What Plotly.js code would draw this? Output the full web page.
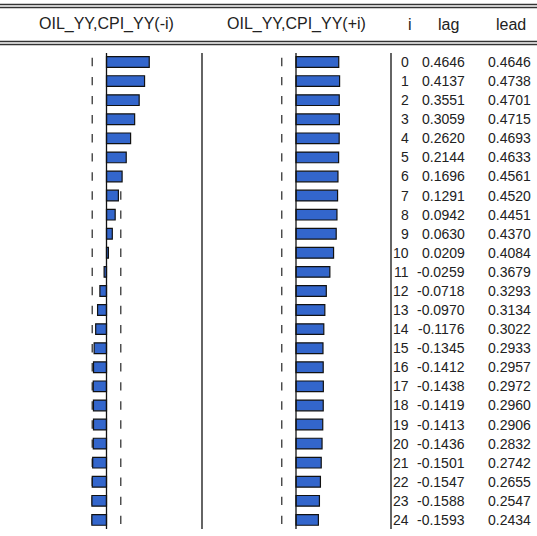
<!DOCTYPE html>
<html>
<head>
<meta charset="utf-8">
<script src="https://cdn.plot.ly/plotly-3.0.1.min.js"></script>
<style>html,body{margin:0;padding:0;background:#fff;}#chart{width:537px;height:536px;}</style>
</head>
<body>
<div id="chart"></div>
<script>
// ---- data ----
var lags = [0,1,2,3,4,5,6,7,8,9,10,11,12,13,14,15,16,17,18,19,20,21,22,23,24];
var lagValues = [0.4646,0.4137,0.3551,0.3059,0.2620,0.2144,0.1696,0.1291,0.0942,0.0630,0.0209,-0.0259,-0.0718,-0.0970,-0.1176,-0.1345,-0.1412,-0.1438,-0.1419,-0.1413,-0.1436,-0.1501,-0.1547,-0.1588,-0.1593];
var leadValues = [0.4646,0.4738,0.4701,0.4715,0.4693,0.4633,0.4561,0.4520,0.4451,0.4370,0.4084,0.3679,0.3293,0.3134,0.3022,0.2933,0.2957,0.2972,0.2960,0.2906,0.2832,0.2742,0.2655,0.2547,0.2434];
var confBand = 0.155;
var headerLeft = "OIL_YY,CPI_YY(-i)";
var headerRight = "OIL_YY,CPI_YY(+i)";
var colHeaders = ["i", "lag", "lead"];

// ---- layout helpers (pixel geometry) ----
var W = 537, H = 536;
var rowTop = 62, rowStep = 19.08;
var scale = 92;           // px per unit correlation
var zeroL = 106.5, zeroR = 296;
function px(x){ return x / W; }
function py(y){ return 1 - y / H; }

var yRange = [(H - rowTop) / rowStep, -rowTop / rowStep];
var xRangeL = [-zeroL / scale, (W - zeroL) / scale];
var xRangeR = [-zeroR / scale, (W - zeroR) / scale];

var barColor = '#3366CC';
var dashColor = '#444';
var txtColor = '#222';

function dashTrace(xaxis) {
  var xs = [], ys = [];
  lags.forEach(function(l){ xs.push(-confBand, confBand); ys.push(l, l); });
  return {type:'scatter', mode:'markers', x:xs, y:ys, xaxis:xaxis, yaxis:'y',
    marker:{symbol:'line-ns', size:6, line:{color:dashColor, width:1.4}},
    hoverinfo:'skip', showlegend:false};
}
function barTrace(vals, xaxis) {
  return {type:'bar', orientation:'h', x:vals, y:lags, xaxis:xaxis, yaxis:'y',
    width:0.56, marker:{color:barColor, line:{color:'#111', width:1.2}},
    hoverinfo:'skip', showlegend:false};
}

var traces = [
  dashTrace('x'),
  barTrace(lagValues, 'x2'),
  dashTrace('x3'),
  barTrace(leadValues, 'x4')
];

var axisBase = {domain:[0,1], showgrid:false, zeroline:false, showticklabels:false, ticks:'', showline:false, fixedrange:true};
var layout = {
  width:W, height:H,
  margin:{l:0, r:0, t:0, b:0, pad:0},
  paper_bgcolor:'#fff', plot_bgcolor:'rgba(0,0,0,0)',
  font:{family:'Liberation Sans, Arial, sans-serif', size:14, color:txtColor},
  bargap:0,
  xaxis: Object.assign({}, axisBase, {range:xRangeL}),
  xaxis2: Object.assign({}, axisBase, {range:xRangeL, overlaying:'x'}),
  xaxis3: Object.assign({}, axisBase, {range:xRangeR, overlaying:'x'}),
  xaxis4: Object.assign({}, axisBase, {range:xRangeR, overlaying:'x'}),
  yaxis: Object.assign({}, axisBase, {range:yRange}),
  shapes:[], annotations:[]
};

function hline(y, w, c){
  layout.shapes.push({type:'line', xref:'paper', yref:'paper', x0:0, x1:1, y0:py(y), y1:py(y), line:{color:c||'#333', width:w||1}});
}
function vline(xp, y0, y1, w){
  layout.shapes.push({type:'line', xref:'paper', yref:'paper', x0:px(xp), x1:px(xp), y0:py(y0), y1:py(y1), line:{color:'#111', width:w||1.3}});
}
hline(4.5, 1.3); hline(7.5, 1.3);
hline(41.5, 1.3); hline(44.5, 1.3);
// zero lines and separators
vline(zeroL, 53, 529); vline(202, 53, 529);
vline(zeroR, 53, 529); vline(391, 53, 529);

function ann(text, x, y, anchor){
  layout.annotations.push({text:text, xref:'paper', yref:'paper', x:px(x), y:py(y), xanchor:anchor||'center', yanchor:'middle', showarrow:false, font:{size:16, color:txtColor}});
}
ann(headerLeft, 106.5, 24);
ann(headerRight, 296.5, 24);
ann(colHeaders[0], 410, 24);
ann(colHeaders[1], 448, 24);
ann(colHeaders[2], 511, 24);

lags.forEach(function(l, k){
  var common = {xref:'paper', yref:'y', y:l, yanchor:'middle', xanchor:'right', showarrow:false, font:{size:14, color:txtColor}};
  layout.annotations.push(Object.assign({}, common, {text:String(l), x:px(411)}));
  layout.annotations.push(Object.assign({}, common, {text:lagValues[k].toFixed(4), x:px(467)}));
  layout.annotations.push(Object.assign({}, common, {text:leadValues[k].toFixed(4), x:px(533)}));
});

Plotly.newPlot('chart', traces, layout, {staticPlot:true, displayModeBar:false});
</script>
</body>
</html>
